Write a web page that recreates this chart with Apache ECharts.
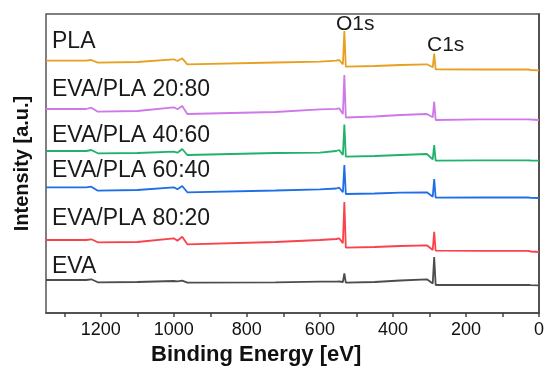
<!DOCTYPE html>
<html><head><meta charset="utf-8">
<script src="https://cdn.jsdelivr.net/npm/echarts@6/dist/echarts.min.js"></script>
<style>html,body{margin:0;padding:0;background:#fff}#c{width:550px;height:373px}</style>
</head><body><div id="c"></div>
<script>
// Binding energy sample points (eV)
const energy = [1350,1240,1226,1208,1100,1000,990,977,963,722,600,555,547,537,533,529,450,380,307,291,287,283,160,30,26,22,0];
// Intensities (a.u., offset stacked)
const pla    = [252.3,252.3,253,250.3,251,253.7,252,254.7,248.7,250.5,251.3,252.3,253,248.7,282,246.3,247,248,248.7,245.7,259.5,243.7,243.5,243.5,244.5,243,242.7];
const e20p80 = [204,204,205.3,201.3,202,205.7,203.7,207,199,201,203.7,204.2,204.7,199,238,195.5,196.5,198,199,195.7,211.3,193,193.7,193.7,195,193.5,193];
const e40p60 = [162,162,163,159.7,160,161.3,160.3,164,158,160,160.3,162,163,158,188.5,156.3,157,158,159,153.7,168,152.3,152.7,152.7,153.7,152.5,152.3];
const e60p40 = [125.7,125.7,126.3,122.3,123,125.7,123.7,127,120.7,122.5,123.7,124.5,125.3,120.7,148,119,119.5,120.3,120.7,116.3,134,115.3,115.5,115.5,116,115.2,115];
const e80p20 = [73,73,73.7,70.7,71,74.7,72.3,76.3,68.7,71,73,74,74.7,69.7,111,65.3,66,67,67.7,63,81.3,62.3,62.2,62.2,63.7,61.5,61];
const eva    = [33,33,33.7,30.7,31,32,31.7,32.3,30.3,30.7,31.3,31.4,31.5,31,39.5,30.3,31,32.5,33.7,29.5,56,28,28,28,28.3,27.8,27.7];
const names  = ['PLA','EVA/PLA 20:80','EVA/PLA 40:60','EVA/PLA 60:40','EVA/PLA 80:20','EVA'];
const colors = ['#E8A020','#CF78E8','#20B26B','#1E6FE6','#F8434A','#4D4D4D'];
const seriesVals = [pla,e20p80,e40p60,e60p40,e80p20,eva];
const xTicks = [0,200,400,600,800,1000,1200];
const labelY = [43,90.7,136.7,171.7,219.3,267.3];

const chart = echarts.init(document.getElementById('c'));
const font = 'Liberation Sans, Arial, sans-serif';
chart.setOption({
  animation:false,
  grid:{left:46,right:11,top:14,bottom:60,show:true,borderColor:'#555',borderWidth:1.5,backgroundColor:'transparent'},
  xAxis:{type:'value',inverse:true,min:0,max:1350,interval:100,
    axisLine:{lineStyle:{color:'#444',width:1.5}},
    axisTick:{show:true,length:4,lineStyle:{color:'#444',width:1.5}},
    axisLabel:{margin:8,fontFamily:font,fontSize:18,color:'#111',showMaxLabel:false,
      formatter:v=>xTicks.includes(v)?String(v):''},
    splitLine:{show:false}},
  yAxis:{type:'value',min:0,max:299,
    name:'Intensity [a.u.]',nameLocation:'middle',nameGap:14,
    nameTextStyle:{fontFamily:font,fontWeight:'bold',fontSize:20,color:'#111'},
    axisLine:{show:true,lineStyle:{color:'#444',width:1.5}},
    axisTick:{show:false},axisLabel:{show:false},splitLine:{show:false}},
  series:seriesVals.map((vals,i)=>({type:'line',name:names[i],showSymbol:false,
    data:energy.map((e,j)=>[e,vals[j]]),
    lineStyle:{color:colors[i],width:1.8},itemStyle:{color:colors[i]}})),
  graphic:[
    ...names.map((n,i)=>({type:'text',left:52,top:labelY[i]-12.5,silent:true,
      style:{text:n,fontFamily:font,fontSize:23,fill:'#1a1a1a'}})),
    {type:'text',left:336,top:14,style:{text:'O1s',fontFamily:font,fontSize:21,fill:'#1a1a1a'}},
    {type:'text',left:427,top:35,style:{text:'C1s',fontFamily:font,fontSize:21,fill:'#1a1a1a'}},
    {type:'text',left:151,top:344,style:{text:'Binding Energy [eV]',fontFamily:font,fontWeight:'bold',fontSize:22,fill:'#111'}}
  ]
});
</script></body></html>
